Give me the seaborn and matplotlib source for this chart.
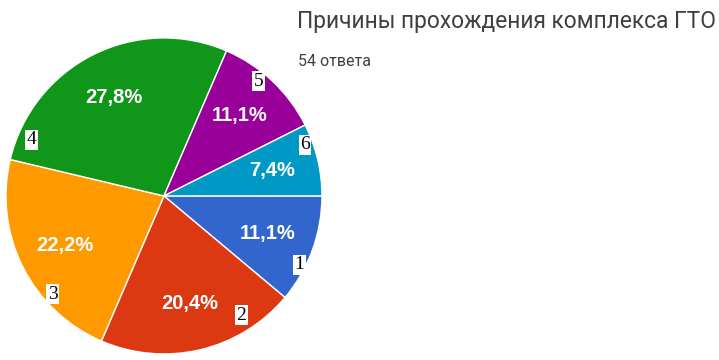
import numpy as np
import matplotlib
matplotlib.use("Agg")
import matplotlib.pyplot as plt
import seaborn as sns

# Данные опроса (54 ответа)
categories = ["1", "2", "3", "4", "5", "6"]
counts = [6, 11, 12, 15, 6, 4]
colors = ["#3366cc", "#dc3912", "#ff9900", "#109618", "#990099", "#0099c6"]
title = "Причины прохождения комплекса ГТО"
subtitle = "54 ответа"

sns.set_theme(style="white")
plt.rcParams["font.family"] = ["Roboto", "DejaVu Sans"]

fig = plt.figure(figsize=(7.19, 3.6), dpi=100)
ax = fig.add_axes([0.0083, 0.0167, 0.4395, 0.878])

wedges, texts, autotexts = ax.pie(
    counts,
    colors=colors,
    startangle=0,
    counterclock=False,
    radius=1.0,
    pctdistance=0.7,
    autopct=lambda p: f"{p:.1f}%".replace(".", ","),
    wedgeprops=dict(edgecolor="white", linewidth=1),
    textprops=dict(color="white", fontsize=14.5, fontweight="bold",
                   family=["Liberation Sans", "DejaVu Sans"]),
)
ax.set_xlim(-1, 1)
ax.set_ylim(-1, 1)
ax.set_aspect("equal")

# подписи номеров (расставлены вручную у начала каждого сектора)
label_pos = [(-27, 0.96), (-57, 0.90), (-138.5, 0.94), (157, 0.91), (50.5, 0.94), (20, 0.95)]
for cat, (ang, r) in zip(categories, label_pos):
    a = np.deg2rad(ang)
    ax.text(r * np.cos(a), r * np.sin(a), cat, ha="center", va="center",
            fontsize=14, family=["Liberation Serif"], color="black",
            bbox=dict(boxstyle="square,pad=0.08", fc="white", ec="none"))

fig.text(0.413, 0.94, title, fontsize=16.4, color="#3c4043", va="center", ha="left")
fig.text(0.414, 0.828, subtitle, fontsize=11.5, color="#3c4043", va="center", ha="left")

plt.savefig("out.png", dpi=100)
